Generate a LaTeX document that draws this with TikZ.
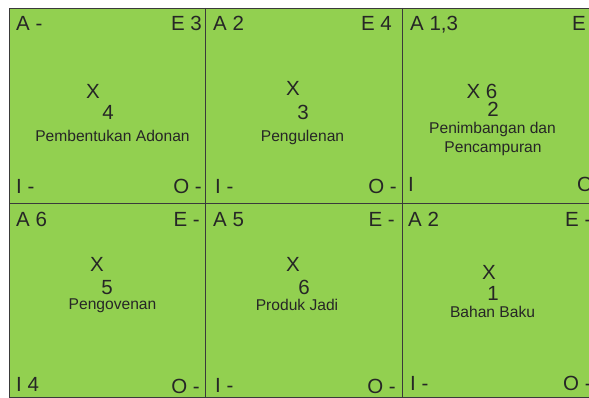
\documentclass[tikz,border=0pt]{standalone}
\usepackage{fontspec}
\setmainfont{Liberation Sans}
\usepackage{xcolor}
\usepackage{tikz}
\usetikzlibrary{positioning}
\definecolor{hijau}{HTML}{92D050}
\definecolor{garis}{HTML}{3A3A3A}

\begin{document}
\begin{tikzpicture}[x=1pt,y=-1pt,
  sudut/.style={font=\fontsize{20.5}{22}\selectfont},
  ket/.style={font=\fontsize{15.6}{18}\selectfont},
  kotak/.style={draw=garis,line width=0.9pt}]
\tikzstyle{every node}+=[inner sep=0pt,text=black!85]
\useasboundingbox (0,0) rectangle (589,398);
\clip (0,0) rectangle (589,398);
\fill [hijau] (9,8) rectangle (599,397);
% garis blok
\draw [kotak] (9,8) rectangle (599,397);
\draw [kotak] (205.5,8) -- (205.5,397);
\draw [kotak] (402,8) -- (402,397);
\draw [kotak] (9,203) -- (599,203);
% blok 4
\node [sudut,anchor=base west] (a1) at (16,31) {A -};
\node [sudut,anchor=base east] (e1) at (202,31) {E 3};
\node [sudut,anchor=base west] (i1) at (16,194) {I -};
\node [sudut,anchor=base east] (o1) at (202,194) {O -};
\node [sudut,anchor=base] (x1) at (93,99) {X};
\node [sudut,anchor=base] (n1) at (108,120) {4};
\node [ket,anchor=base] (k1) at (112.5,142) {Pembentukan Adonan};
% blok 3
\node [sudut,anchor=base west] (a2) at (213,31) {A 2};
\node [sudut,anchor=base east] (e2) at (392,31) {E 4};
\node [sudut,anchor=base west] (i2) at (215,194) {I -};
\node [sudut,anchor=base east] (o2) at (397,194) {O -};
\node [sudut,anchor=base] (x2) at (293,96) {X};
\node [sudut,anchor=base] (n2) at (303,120) {3};
\node [ket,anchor=base] (k2) at (302.5,142) {Pengulenan};
% blok 2
\node [sudut,anchor=base west] (a3) at (410,31) {A 1,3};
\node [sudut,anchor=base west] (e3) at (572,31) {E};
\node [sudut,anchor=base west] (i3) at (408,192) {I};
\node [sudut,anchor=base west] (o3) at (577,192) {O};
\node [sudut,anchor=base] (x3) at (482,99) {X 6};
\node [sudut,anchor=base] (n3) at (493,117) {2};
\node [ket,anchor=base] (k3) at (492.5,134) {Penimbangan dan};
\node [ket,anchor=base] (k3b) at (493,153) {Pencampuran};
% blok 5
\node [sudut,anchor=base west] (a4) at (16,227) {A 6};
\node [sudut,anchor=base east] (e4) at (200,227) {E -};
\node [sudut,anchor=base west] (i4) at (16,391) {I 4};
\node [sudut,anchor=base east] (o4) at (200,393) {O -};
\node [sudut,anchor=base] (x4) at (97,272) {X};
\node [sudut,anchor=base] (n4) at (107,294) {5};
\node [ket,anchor=base] (k4) at (112.5,309) {Pengovenan};
% blok 6
\node [sudut,anchor=base west] (a5) at (213,227) {A 5};
\node [sudut,anchor=base east] (e5) at (395,227) {E -};
\node [sudut,anchor=base west] (i5) at (215,392) {I -};
\node [sudut,anchor=base east] (o5) at (396,393) {O -};
\node [sudut,anchor=base] (x5) at (293,272) {X};
\node [sudut,anchor=base] (n5) at (304,294) {6};
\node [ket,anchor=base] (k5) at (297,310) {Produk Jadi};
% blok 1
\node [sudut,anchor=base west] (a6) at (408,227) {A 2};
\node [sudut,anchor=base west] (e6) at (565,227) {E -};
\node [sudut,anchor=base west] (i6) at (410,390) {I -};
\node [sudut,anchor=base west] (o6) at (563,390) {O -};
\node [sudut,anchor=base] (x6) at (489,279) {X};
\node [sudut,anchor=base] (n6) at (493,300) {1};
\node [ket,anchor=base] (k6) at (492.5,317) {Bahan Baku};
\end{tikzpicture}
\end{document}
